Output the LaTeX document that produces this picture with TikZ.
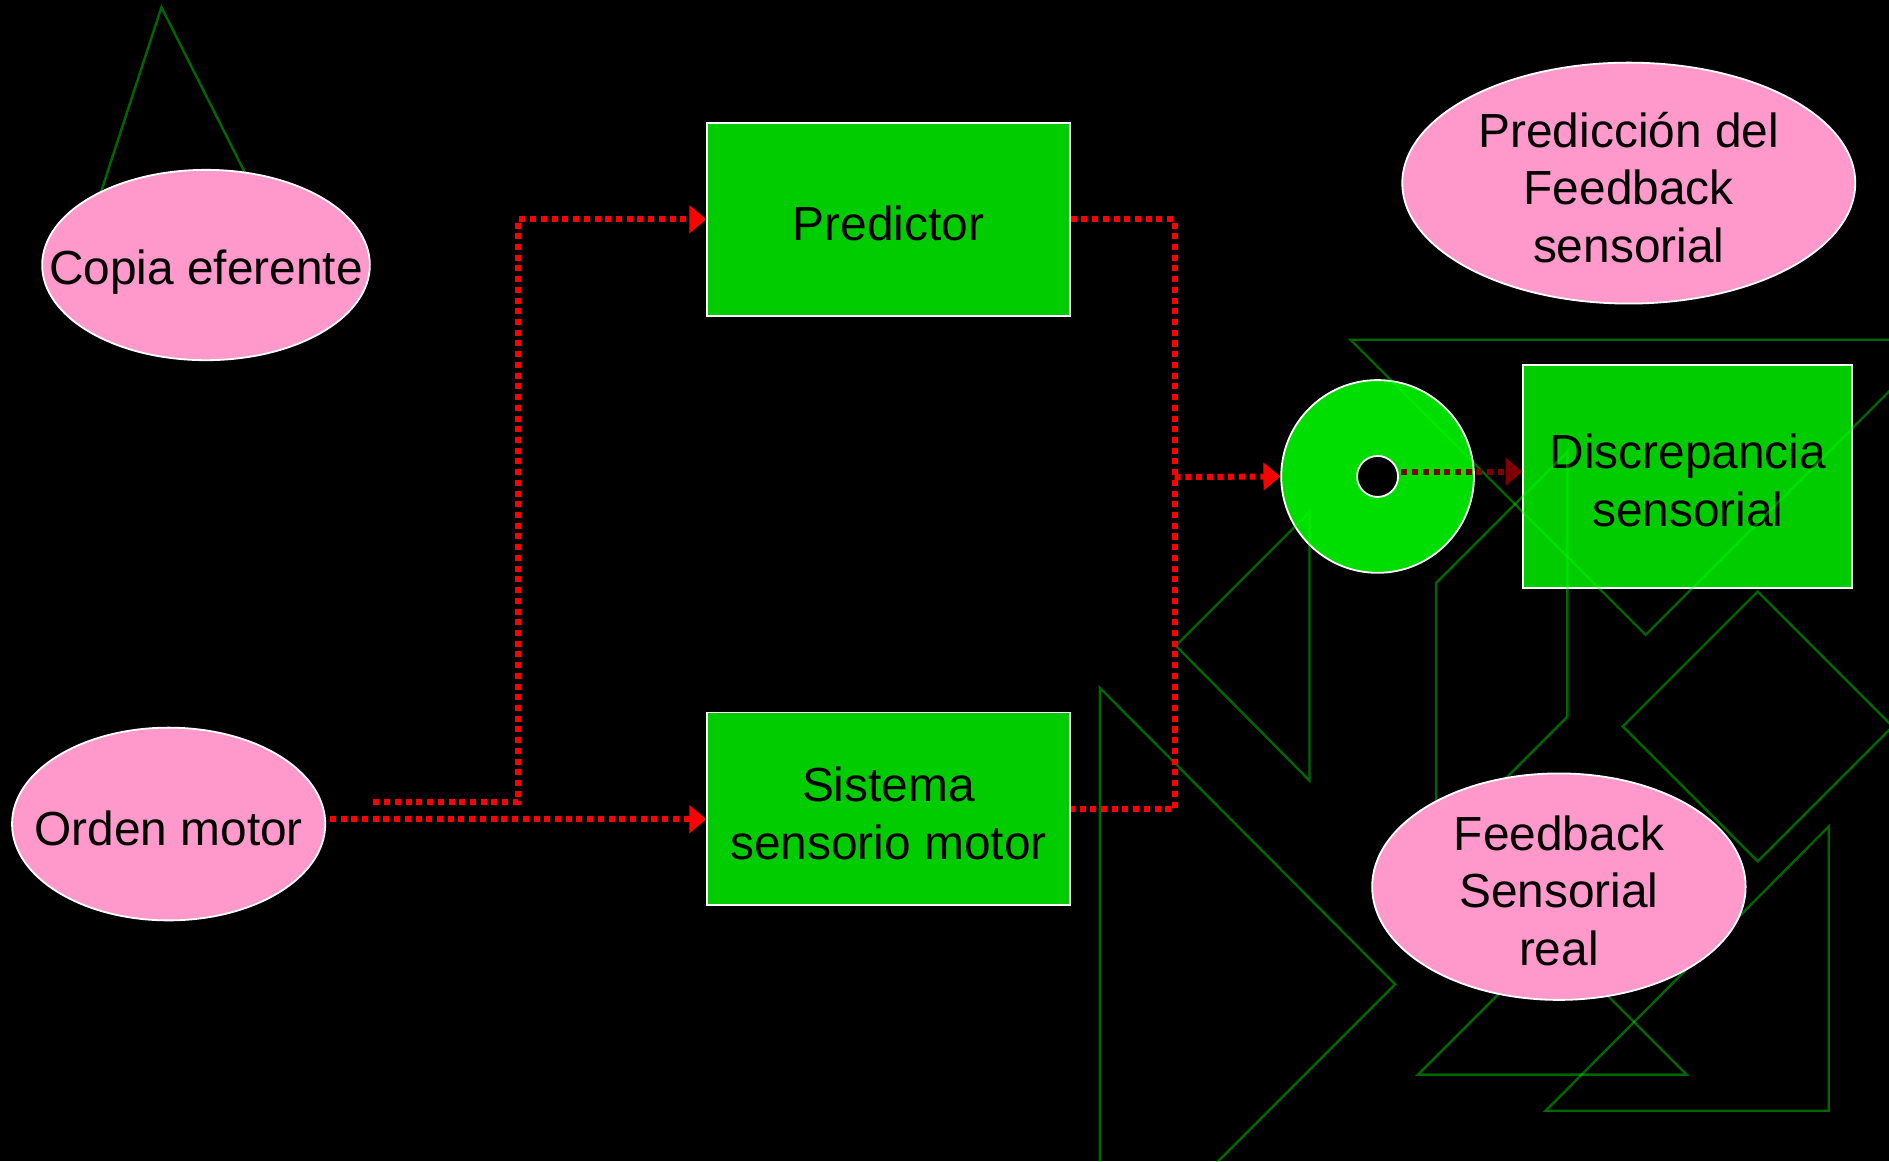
\documentclass[tikz,border=0pt]{standalone}
\usepackage{fontspec}
\setmainfont{Liberation Sans}
\usetikzlibrary{arrows.meta,positioning,calc,shapes.geometric}
\definecolor{caja}{RGB}{0,204,0}
\definecolor{disco}{RGB}{0,221,0}
\definecolor{rosa}{RGB}{255,153,204}
\definecolor{trazo}{RGB}{0,255,0}
\definecolor{granate}{RGB}{128,0,0}
\tikzset{
  flujo/.style={red,line width=0.5mm,dash pattern=on 0.5mm off 0.39mm},
  flecha/.style={flujo,-{Triangle[length=1.4mm,width=2.25mm]}},
  deco/.style={draw=trazo,draw opacity=0.4,line width=0.2mm,line join=miter}
}

\begin{document}
\begin{tikzpicture}[x=0.1mm,y=-0.1mm,
  every node/.style={font=\fontsize{11.3}{13.6}\selectfont},
  bloque/.style={draw=white,fill=caja,line width=0.15mm,minimum width=30.1mm,
    minimum height=16mm,inner sep=0pt},
  nube/.style={ellipse,draw=white,fill=rosa,line width=0.15mm,inner sep=0pt},
  rotulo/.style={align=center,inner sep=0pt,yshift=-0.35mm}]
\useasboundingbox (0,0) rectangle (1568,964);
\fill[black] (0,0) rectangle (1568,964);
\node[bloque,label={[rotulo]center:Predictor}] (predictor) at (737.5,182) {};
\node[bloque,label={[rotulo]center:Sistema\\sensorio motor}] (sistema)
  at (737.5,671.5) {};
\node[bloque,minimum width=27.3mm,minimum height=18.5mm,
  label={[rotulo]center:Discrepancia\\sensorial}] (discrepancia)
  at (1401,395.5) {};
\node[circle,draw=white,fill=disco,line width=0.15mm,minimum size=16mm]
  (comparador) at (1143.5,395.5) {};
\node[circle,draw=white,fill=black,line width=0.15mm,minimum size=3.4mm,
  inner sep=0pt] (hueco) at (comparador) {};
% fondo de la diapositiva
\begin{scope}
\clip (0,0) rectangle (1568,964);
\draw[deco] (134,6) -- (62,226) -- (245,226) -- cycle;
\draw[deco] (1121,282) -- (1611,282) -- (1366,527) -- cycle;
\draw[deco] (1087,425) -- (976,536) -- (1087,648) -- cycle;
\draw[deco] (1192,484) -- (1301,375) -- (1301,595) -- (1192,704) -- cycle;
\draw[deco] (1459,491) -- (1571,603) -- (1459,715) -- (1347,603) -- cycle;
\draw[deco] (913,571) -- (1158,817) -- (913,1062) -- cycle;
\draw[deco] (1177,892) -- (1400,892) -- (1288.5,780.5) -- cycle;
\draw[deco] (1518,686) -- (1518,922) -- (1283,922) -- cycle;
\end{scope}
\node[nube,minimum width=27.2mm,minimum height=15.8mm,
  label={[rotulo,yshift=-0.2mm]center:Copia eferente}] (copia) at (171,220) {};
\node[nube,minimum width=26mm,minimum height=16mm,
  label={[rotulo]center:Orden motor}] (orden) at (140,684) {};
\node[nube,minimum width=37.6mm,minimum height=20mm,
  label={[rotulo]center:Predicción del\\Feedback\\sensorial}] (prediccion)
  at (1352,152) {};
\node[nube,minimum width=31mm,minimum height=18.8mm,
  label={[rotulo]center:Feedback\\Sensorial\\real}] (feedback) at (1294,736) {};
\coordinate (salida) at ($(orden.east)+(3,-4)$);
\coordinate (rama) at (310,666);
\coordinate (codo) at (430,666);
\coordinate (suma) at (975,396);
\coordinate (fuga) at ($(hueco.east)+(2,-4)$);
\draw[flecha] (salida) -- (salida -| sistema.west);
\draw[flecha] (rama) -- (codo) |- (predictor.west);
\draw[flujo] (predictor.east) -| (suma) |- (sistema.east);
\draw[flecha] (suma) -- (comparador.west);
\draw[flecha,granate] (fuga) -- (fuga -| discrepancia.west);
\end{tikzpicture}
\end{document}
